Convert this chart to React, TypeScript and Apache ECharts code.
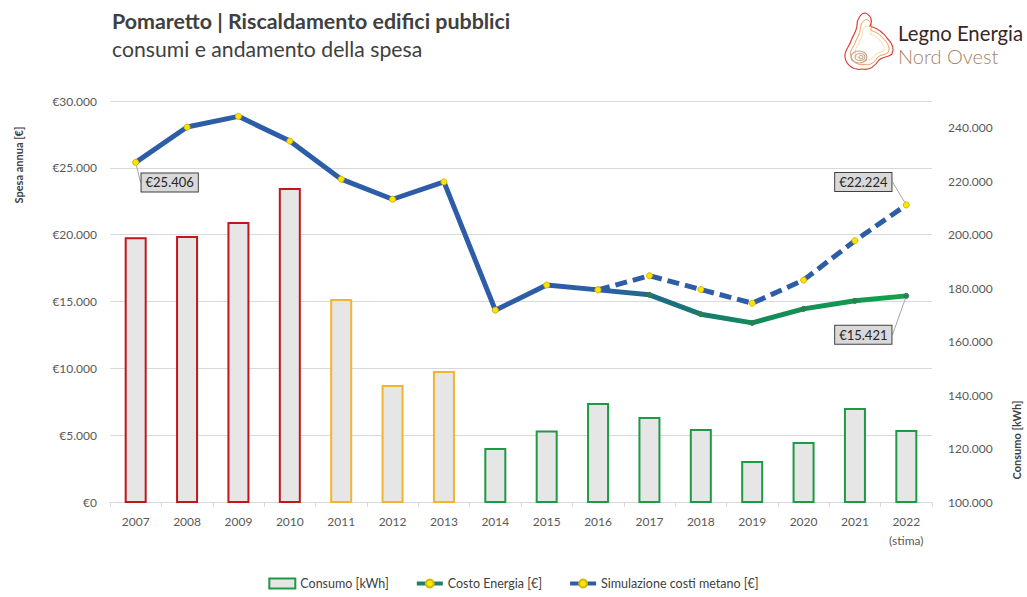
import React, { useEffect, useRef } from 'react';
import * as echarts from 'echarts';

const years = ['2007', '2008', '2009', '2010', '2011', '2012', '2013', '2014', '2015', '2016', '2017', '2018', '2019', '2020', '2021', '2022\n(stima)'];
const consumoKWh = [199000, 199500, 204700, 217500, 175900, 143800, 149000, 120200, 126700, 137000, 131800, 127300, 115300, 122400, 135200, 126900];
const costoEnergia = [25406, 28050, 28850, 27000, 24150, 22650, 23950, 14350, 16230, 15870, 15500, 14050, 13400, 14450, 15050, 15421];
const simulazioneMetano = [null, null, null, null, null, null, null, null, null, 15870, 16930, 15900, 14870, 16600, 19550, 22224];

const seriesNames = ['Consumo [kWh]', 'Costo Energia [€]', 'Simulazione costi metano [€]'];
const titleText = 'Pomaretto | Riscaldamento edifici pubblici';
const subtitleText = 'consumi e andamento della spesa';

const FONT = 'Lato, "Open Sans", sans-serif';

function fmt(v: number): string {
  return Math.round(v).toString().replace(/\B(?=(\d{3})+(?!\d))/g, '.');
}

function barBorder(i: number): string {
  if (i < 4) return '#c0161c';
  if (i < 7) return '#f2b431';
  return '#1e9a46';
}

const logoOutline =
  'M22,2 C28,4 30,10 27,15 C33,17 40,21 44,27 C48,31 52,37 49,43 C45,47 40,45 36,49 C32,55 27,60 19,58 C11,60 3,54 2,46 C1,40 6,36 8,30 C10,24 14,20 14,14 C14,8 18,2 22,2 Z';

export default function App() {
  const ref = useRef<HTMLDivElement>(null);
  useEffect(() => {
    if (!ref.current) return;
    try {
      echarts.graphic.registerShape('logoShape', echarts.graphic.extendPath(logoOutline, {}) as any);
    } catch (e) {}
    const chart = echarts.init(ref.current, null, { renderer: 'svg' });
    const lastIdx = years.length - 1;
    const labelBox = (v: number) => ({
      show: true,
      position: 'inside',
      formatter: '€' + fmt(v),
      fontSize: 13,
      color: '#262626',
      backgroundColor: '#d9d9d9',
      borderColor: '#404040',
      borderWidth: 1,
      padding: [3, 4, 2, 4],
      fontFamily: FONT,
    });
    const option: any = {
      animation: false,
      textStyle: { fontFamily: FONT },
      grid: { left: 110, right: 95, top: 101, bottom: 95 },
      legend: {
        bottom: 2,
        left: 'center',
        itemGap: 26,
        itemWidth: 26,
        itemHeight: 10,
        textStyle: { fontSize: 12.5, color: '#404040', fontFamily: FONT },
        data: [
          { name: seriesNames[0], icon: 'rect' },
          { name: seriesNames[1], lineStyle: { width: 4, type: 'solid', color: '#1f7f6a' } },
          { name: seriesNames[2], lineStyle: { width: 4, type: 'solid', color: '#2e5da8' } },
        ],
      },
      xAxis: {
        type: 'category',
        data: years,
        axisLine: { lineStyle: { color: '#d9d9d9', width: 1 } },
        axisTick: { show: true, length: 5, lineStyle: { color: '#d9d9d9' } },
        axisLabel: { color: '#595959', fontSize: 12, margin: 10, lineHeight: 19, fontFamily: FONT },
      },
      yAxis: [
        {
          type: 'value',
          min: 0,
          max: 30000,
          interval: 5000,
          axisLine: { show: false },
          axisTick: { show: false },
          splitLine: { lineStyle: { color: '#d9d9d9', width: 1 } },
          axisLabel: { color: '#595959', fontSize: 12, margin: 13, formatter: (v: number) => '€' + fmt(v), fontFamily: FONT },
        },
        {
          type: 'value',
          min: 100000,
          max: 250000,
          interval: 20000,
          axisLine: { show: false },
          axisTick: { show: false },
          splitLine: { show: false },
          axisLabel: { color: '#595959', fontSize: 12, margin: 16, showMaxLabel: false, formatter: (v: number) => fmt(v), fontFamily: FONT },
        },
      ],
      series: [
        {
          name: seriesNames[0],
          type: 'bar',
          yAxisIndex: 1,
          barWidth: 22,
          itemStyle: { color: '#e6e6e6', borderColor: '#1e9a46', borderWidth: 2 },
          data: consumoKWh.map((v, i) => ({ value: v, itemStyle: { borderColor: barBorder(i) } })),
          z: 1,
        },
        {
          name: seriesNames[1],
          type: 'line',
          yAxisIndex: 0,
          symbol: 'circle',
          symbolSize: 6,
          lineStyle: {
            width: 5,
            color: new echarts.graphic.LinearGradient(0, 0, 1, 0, [
              { offset: 0, color: '#2e5da8' },
              { offset: 0.6, color: '#2e5da8' },
              { offset: 0.68, color: '#1d6c84' },
              { offset: 0.8, color: '#128a5a' },
              { offset: 1, color: '#12a24a' },
            ]),
          },
          itemStyle: { color: '#ffe500', borderColor: '#d4b800', borderWidth: 1 },
          labelLine: { show: true, lineStyle: { color: '#a6a6a6', width: 1 } },
          labelLayout: (p: any) => {
            if (p.dataIndex === 0) return { dx: 34, dy: 20 };
            if (p.dataIndex === lastIdx) return { dx: -43, dy: 39 };
            return {};
          },
          data: costoEnergia.map((v, i) => {
            const d: any = { value: v };
            if (i > 9) {
              d.itemStyle = { color: '#2e7d52', borderColor: '#2e7d52' };
              d.symbolSize = 5;
            }
            if (i === 0 || i === lastIdx) d.label = labelBox(v);
            return d;
          }),
          z: 3,
        },
        {
          name: seriesNames[2],
          type: 'line',
          yAxisIndex: 0,
          symbol: 'circle',
          symbolSize: 6,
          lineStyle: { width: 5, color: '#2e5da8', type: [12, 6] },
          itemStyle: { color: '#ffe500', borderColor: '#d4b800', borderWidth: 1 },
          labelLine: { show: true, lineStyle: { color: '#a6a6a6', width: 1 } },
          labelLayout: (p: any) => {
            if (p.dataIndex === lastIdx) return { dx: -43, dy: -23 };
            return {};
          },
          data: simulazioneMetano.map((v, i) => {
            const d: any = { value: v };
            if (i === lastIdx && v != null) d.label = labelBox(v);
            return d;
          }),
          z: 4,
        },
      ],
      graphic: [
        { type: 'text', left: 112, top: 10, style: { text: titleText, font: `bold 21.4px ${FONT}`, fill: '#404040' } },
        { type: 'text', left: 112, top: 38, style: { text: subtitleText, font: `21.2px ${FONT}`, fill: '#404040' } },
        { type: 'text', x: 18, y: 165, rotation: Math.PI / 2, style: { text: 'Spesa annua [€]', font: `bold 11px ${FONT}`, fill: '#404040', align: 'center', verticalAlign: 'middle' } },
        { type: 'text', x: 1016, y: 440, rotation: Math.PI / 2, style: { text: 'Consumo [kWh]', font: `bold 11px ${FONT}`, fill: '#404040', align: 'center', verticalAlign: 'middle' } },
        { type: 'logoShape', x: 843, y: 11, scaleX: 1.0, scaleY: 1.0, style: { fill: 'none', stroke: '#d8403a', lineWidth: 1.2 } },
        { type: 'logoShape', x: 849, y: 18, scaleX: 0.8, scaleY: 0.8, style: { fill: 'none', stroke: '#ee9a4a', lineWidth: 1.2 } },
        { type: 'logoShape', x: 854, y: 25, scaleX: 0.6, scaleY: 0.6, style: { fill: 'none', stroke: '#f4cf86', lineWidth: 1.2 } },
        { type: 'ellipse', shape: { cx: 859, cy: 57, rx: 8, ry: 6 }, style: { fill: 'none', stroke: '#c9a48a', lineWidth: 1.2 } },
        { type: 'ellipse', shape: { cx: 860, cy: 57, rx: 5, ry: 3.5 }, style: { fill: 'none', stroke: '#c9a48a', lineWidth: 1.2 } },
        { type: 'ellipse', shape: { cx: 861, cy: 57, rx: 2, ry: 1.5 }, style: { fill: 'none', stroke: '#c9a48a', lineWidth: 1.2 } },
        { type: 'text', left: 898, top: 23, style: { text: 'Legno Energia', font: `20.3px ${FONT}`, fill: '#3a2624' } },
        { type: 'text', left: 898, top: 46, style: { text: 'Nord Ovest', font: `300 20px ${FONT}`, fill: '#a98360' } },
      ],
    };
    chart.setOption(option);
    return () => chart.dispose();
  }, []);
  return <div ref={ref} style={{ position: 'absolute', left: 0, top: 0, width: 1027, height: 597 }} />;
}
